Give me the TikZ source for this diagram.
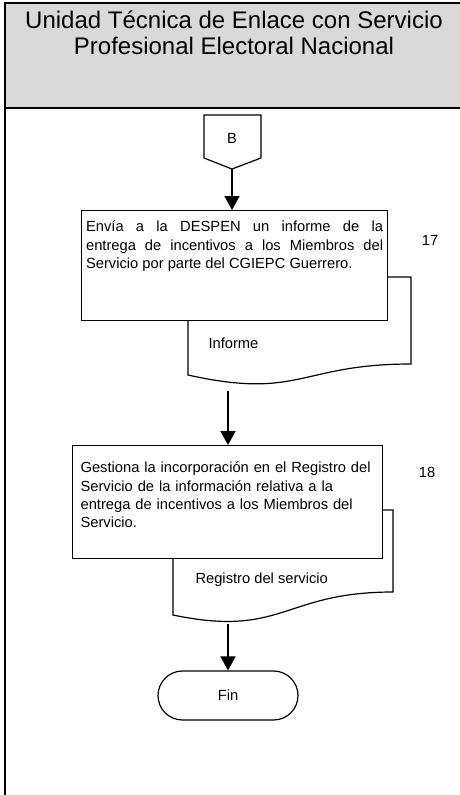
\documentclass[tikz,border=0pt]{standalone}
\usepackage{fontspec}
\setmainfont{Liberation Sans}
\usetikzlibrary{arrows.meta,positioning}

\begin{document}
\begin{tikzpicture}[x=1pt, y=-1pt, every node/.style={font=\fontsize{14.7}{18.4}\selectfont},
    caja/.style={draw, line width=1.2pt, fill=white, anchor=north west, inner ysep=8pt},
    documento/.style={draw, line width=1.2pt, fill=white},
    flecha/.style={-{Triangle[width=15pt,length=14pt]}, line width=1.8pt}]
    \useasboundingbox (0,0) rectangle (460,795);
    \draw[line width=1.5pt, fill=black!15] (5,3) rectangle (470,108);
    \draw[line width=2.5pt] (5,2) -- (5,800);
    \node[font=\fontsize{24}{26.5}\selectfont, align=center] (titulo) at (234,33) {Unidad Técnica de Enlace con Servicio\\Profesional Electoral Nacional};
    \draw[documento] (204,115) -- (261,115) -- (261,158) -- (232,169) -- (204,158) -- cycle;
    \node (conector) at (232,138) {B};
    \coordinate (Bpunta) at (232,169);
    \draw[documento] (188,277) -- (411,277) -- (411,364) .. controls (300,364) and (300,400) .. (188,375) -- cycle;
    \node[caja, text width=297pt, inner xsep=4.5pt, align=justify, text height=13pt, text depth=81pt] (p17) at (81,210) {Envía a la DESPEN un informe de la\linebreak entrega de incentivos a los Miembros del\linebreak Servicio por parte del CGIEPC Guerrero.};
    \node[anchor=base] (n17) at (430,245) {17};
    \node[anchor=base west] (informe) at (205,348) {Informe};
    \coordinate (salida17) at (228,391);
    \draw[documento] (173,510) -- (393,510) -- (393,592) .. controls (283,592) and (283,638) .. (173,615) -- cycle;
    \node[caja, text width=294pt, inner xsep=8pt, align=left, text height=19pt, text depth=78pt] (p18) at (72,445) {Gestiona la incorporación en el Registro del\\Servicio de la información relativa a la\\entrega de incentivos a los Miembros del\\Servicio.};
    \node[anchor=base] (n18) at (427,477) {18};
    \node[anchor=base west] (registro) at (192,583) {Registro del servicio};
    \coordinate (salida18) at (228,624);
    \node[draw, line width=1.2pt, rounded corners=24.5pt, minimum width=140pt, minimum height=49pt] (fin) at (228,695.5) {Fin};
    \draw[flecha] (Bpunta) -- (Bpunta |- p17.north);
    \draw[flecha] (salida17) -- (salida17 |- p18.north);
    \draw[flecha] (salida18) -- (fin.north);
\end{tikzpicture}
\end{document}
